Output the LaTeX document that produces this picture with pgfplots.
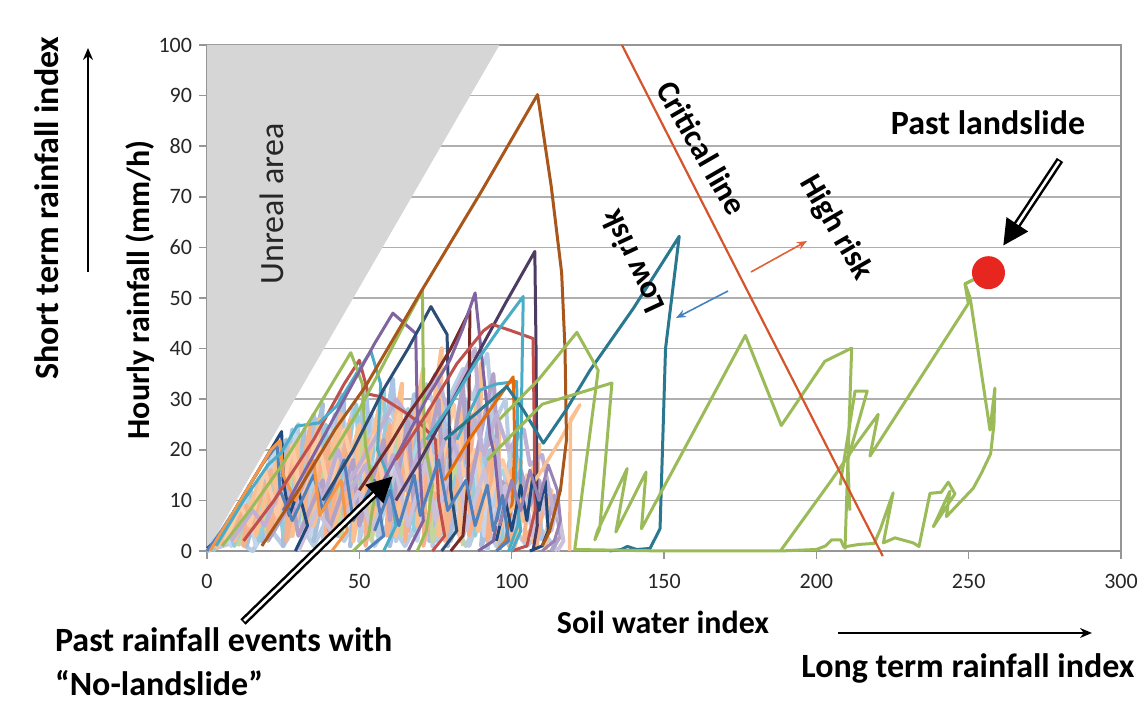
\documentclass[border=0pt]{standalone}
\usepackage{fontspec}
\setmainfont{Carlito}
\usepackage{pgfplots}
\pgfplotsset{compat=1.18}
\usetikzlibrary{arrows.meta}

\definecolor{unreal}{RGB}{214,214,214}
\definecolor{gridgray}{RGB}{175,175,175}
\definecolor{axgray}{RGB}{150,150,150}
\definecolor{critred}{RGB}{214,84,44}
\definecolor{dotred}{RGB}{232,38,32}
\definecolor{arrblue}{RGB}{70,130,190}
\definecolor{arrred}{RGB}{224,96,58}
\definecolor{cNavy}{HTML}{1F497D}
\definecolor{cBlue}{HTML}{4F81BD}
\definecolor{cRed}{HTML}{C0504D}
\definecolor{cGreen}{HTML}{9BBB59}
\definecolor{cPurple}{HTML}{8064A2}
\definecolor{cAqua}{HTML}{4BACC6}
\definecolor{cOrange}{HTML}{F79646}
\definecolor{cDBlue}{HTML}{2C4D75}
\definecolor{cMaroon}{HTML}{772C2A}
\definecolor{cDPurple}{HTML}{4D3B62}
\definecolor{cTeal}{HTML}{2A7790}
\definecolor{cBrown}{HTML}{A8561A}
\definecolor{cDOrange}{HTML}{E46C0A}
\definecolor{cLPurple}{HTML}{9983B5}
\definecolor{lb1}{HTML}{B8CCE4}
\definecolor{lb2}{HTML}{A5BFDD}
\definecolor{lb3}{HTML}{C6D9F1}
\definecolor{lb4}{HTML}{A9C4E4}
\definecolor{lb5}{HTML}{C5D5EA}
\definecolor{pe1}{HTML}{FAC090}
\definecolor{pe2}{HTML}{F7B18A}
\definecolor{pe3}{HTML}{FBCBA6}
\definecolor{lav1}{HTML}{B3A2C7}
\definecolor{lav2}{HTML}{CCC1DA}
\definecolor{lav3}{HTML}{BFB1D5}
\definecolor{lc1}{HTML}{93CDDD}
\definecolor{lc2}{HTML}{A8D8E6}
\definecolor{lg1}{HTML}{C3D69B}

\newcommand\fbig{\fontsize{17bp}{20bp}\selectfont\bfseries}
\newcommand\fmid{\fontsize{16bp}{19bp}\selectfont\bfseries}

\begin{document}
\begin{tikzpicture}
\path[use as bounding box] (0,0) rectangle (573.5bp,358bp);
\begin{axis}[
  at={(103.5bp,82.5bp)}, anchor=south west,
  scale only axis, width=457bp, height=253bp,
  xmin=0, xmax=300, ymin=0, ymax=100,
  enlargelimits=false,
  xtick={0,50,...,300}, ytick={0,10,...,100},
  ymajorgrids, grid style={draw=gridgray, line width=0.75bp},
  axis line style={draw=axgray, line width=0.75bp},
  tick style={draw=axgray, line width=0.75bp},
  tick align=outside, major tick length=4bp, tick pos=left,
  ticklabel style={font=\fontsize{11bp}{13bp}\selectfont, text=black!85},
  xticklabel style={yshift=-4bp},
  /pgf/number format/assume math mode=true,
  clip=false,
  every axis plot/.append style={line width=1.5bp, line join=round},
]
% unreal area
\addplot[fill=unreal, draw=none] coordinates {(0,0) (96,100) (0,100)} -- cycle;

% dense light series (past no-landslide events)
\addplot[lb1, line width=2.2bp] coordinates {(1,0.5) (6,5) (5,1) (12,10) (10,2) (18,15) (15,3) (24,20) (21,4) (30,25) (27,3) (36,26) (33,5) (42,27) (38,2) (48,28) (44,4) (54,27) (50,2) (60,26) (56,3) (66,28) (62,2) (72,25) (68,3) (78,27) (74,1) (84,24) (80,2) (90,22) (86,1) (96,18) (92,0)};
\addplot[lb1, line width=2.2bp] coordinates {(0,0) (10,2) (15,0) (20,5) (25,1) (30,6) (35,1) (40,7) (45,2) (50,8) (55,1) (60,6) (65,1) (70,7) (75,2) (80,6) (85,1) (90,7) (95,1) (100,5) (105,1) (110,4) (115,0)};
\addplot[lb2, line width=2.2bp] coordinates {(2,0) (8,7) (7,2) (14,12) (13,1) (20,17) (18,2) (26,22) (25,1) (32,24) (30,6) (38,29) (35,2) (45,30) (43,3) (51,25) (47,1) (57,29) (55,5) (63,30) (60,1) (69,27) (66,4) (75,29) (73,2) (81,23) (79,1) (87,26) (84,3) (93,20) (90,1) (98,12) (96,0)};
\addplot[lb3, line width=2.2bp] coordinates {(0,0) (4,3) (9,4) (11,8) (16,6) (19,13) (23,9) (27,19) (29,10) (34,21) (37,12) (40,24) (43,14) (47,22) (49,11) (53,20) (57,13) (59,24) (63,12) (67,20) (70,9) (74,19) (77,11) (82,17) (85,8) (89,15) (92,6) (97,10) (100,2)};
\addplot[lb4, line width=2.2bp] coordinates {(3,2) (7,6) (10,3) (14,13) (17,4) (21,19) (24,6) (28,24) (31,8) (35,27) (39,7) (44,31) (47,9) (52,33) (55,10) (61,34) (63,9) (68,31) (71,8) (77,33) (80,10) (85,30) (88,8) (93,27) (96,9) (101,22) (104,6) (108,15) (110,2)};
\addplot[lb5, line width=2.2bp] coordinates {(1,1) (5,4) (8,1) (13,11) (16,1) (22,20) (26,4) (29,23) (34,3) (38,22) (42,8) (46,25) (52,4) (55,26) (58,9) (64,22) (69,2) (73,20) (77,4) (80,22) (83,6) (88,20) (91,3) (95,16) (98,2)};
\addplot[lb1, line width=2bp] coordinates {(40,10) (50,20) (60,28) (65,22) (72,33) (76,26) (84,36) (87,30) (92,39) (94,25) (98,30) (100,12)};
\addplot[lc1, line width=2bp] coordinates {(2,0) (7,5) (9,1) (15,11) (17,2) (23,15) (25,3) (31,20) (33,4) (39,25) (41,5) (49,29) (51,6) (58,32) (60,8) (66,28) (68,4) (76,34) (78,5) (86,28) (88,3) (95,23) (97,2)};
\addplot[lc2, line width=2bp] coordinates {(10,4) (14,10) (18,8) (22,14) (26,10) (33,16) (36,12) (44,19) (48,14) (53,18) (57,16) (62,20) (66,15) (70,23) (75,17) (79,20) (83,14) (89,19) (93,12) (97,16) (101,9) (104,14) (107,8)};
\addplot[lg1, line width=2bp] coordinates {(10,1) (18,10) (20,2) (30,18) (32,4) (42,22) (44,3) (52,24) (54,2) (62,26) (64,3) (72,21) (74,2) (82,18) (84,1)};
\addplot[pe1, line width=2.2bp] coordinates {(3,0.5) (10,7) (9,2) (17,13) (16,3) (23,18) (22,4) (30,22) (28,3) (37,26) (35,5) (44,27) (41,3) (50,25) (48,2) (57,30) (55,4) (64,33) (62,3) (71,36) (69,5) (77,40) (76,3) (84,31) (83,2) (90,37) (89,4) (96,25) (95,2) (103,18) (101,1) (109,21) (107,2) (113,12) (111,0)};
\addplot[pe2, line width=2bp] coordinates {(5,1) (13,9) (12,1) (21,16) (20,2) (27,20) (26,2) (34,25) (32,4) (40,22) (39,2) (47,26) (45,6) (53,22) (52,1) (60,25) (59,3) (67,22) (65,2) (73,28) (71,1) (80,24) (78,2) (87,27) (86,3) (94,20) (92,2) (100,16) (99,1) (106,13) (104,2) (110,8) (108,0)};
\addplot[pe3, line width=2bp] coordinates {(6,2) (11,9) (14,5) (19,16) (23,7) (28,21) (31,10) (36,23) (40,12) (45,24) (49,14) (55,23) (58,13) (63,27) (67,10) (72,25) (75,12) (81,29) (84,15) (88,20) (92,9) (97,18) (102,9) (105,15) (108,5)};
\addplot[lav1, line width=2bp] coordinates {(20,2) (28,10) (30,3) (38,14) (40,4) (48,18) (50,5) (58,22) (60,6) (66,26) (68,8) (76,30) (78,10) (84,33) (86,12) (94,35) (96,14) (100,12) (103,16) (106,9) (109,14) (112,6) (114,11) (116,3) (113,0)};
\addplot[lav2, line width=2bp] coordinates {(30,0) (36,8) (42,3) (50,12) (54,4) (62,16) (66,5) (72,18) (75,6) (82,21) (85,4) (91,16) (94,5) (98,13) (101,4) (104,12) (107,3) (110,10) (113,4) (115,9) (117,2) (115,0)};
\addplot[lav3, line width=2bp] coordinates {(8,2) (15,8) (19,5) (25,14) (29,9) (34,17) (38,10) (43,20) (47,12) (52,17) (56,9) (61,19) (65,12) (71,22) (74,14) (79,24) (83,18) (88,26) (91,19) (95,27) (99,20) (104,24) (106,17) (110,19) (114,7)};
\addplot[lav3, line width=2bp] coordinates {(45,12) (55,22) (62,30) (68,25) (75,35) (79,28) (88,40) (90,20) (95,22) (97,8)};

% medium coloured events
\addplot[cNavy] coordinates {(0,0.5) (3,2) (10,9) (17,16) (24.5,23.6) (25,14) (27,7) (30,12) (33,5) (29,0)};
\addplot[cBlue] coordinates {(0,0) (6,5) (12,11) (18,17) (23,21) (24,12) (28,6) (35,15) (38,8) (45,18) (48,6) (55,14) (58,3) (52,0)};
\addplot[cOrange] coordinates {(1,0) (8,7) (15,14) (21,20) (24,21.8) (25,15) (29,10) (35,18) (37,7) (44,14) (46,4) (41,0)};
\addplot[cRed] coordinates {(12,2) (22,10) (35,22) (45,33) (50,37.7) (53,31) (57,30.5) (66,27) (70,25.2) (75,22) (76,10) (78,3) (74,0)};
\addplot[cAqua] coordinates {(3,1) (12,10) (20,17) (24.5,19.5) (29.5,24.7) (36.7,25.3) (42.5,28.6) (50,36) (53.8,39.5) (57,33) (56,20) (60,14) (62,5) (58,0)};
\addplot[cGreen] coordinates {(5,1) (14,8) (24.5,16.9) (35,27) (47.2,39.2) (51,33) (52,21) (55,11) (53,3) (48,0)};
\addplot[cPurple] coordinates {(25,8) (35,19) (45,30) (55,41) (61,47) (68.5,43) (69,28) (70,15) (71,6) (66,0)};
\addplot[cDBlue] coordinates {(38,10) (48,20) (58,32) (66,40) (73.5,48.3) (78.8,42.8) (79.5,25) (80,12) (82,4) (77,0)};
\addplot[cGreen] coordinates {(40,18) (50,28) (58,37) (64,44) (70.7,51.5) (71,35) (71.3,22) (74,13) (72,4) (69,0)};
\addplot[cMaroon] coordinates {(50,12) (60,21) (66,27) (73.2,33.1) (80,40) (86.3,47.6) (86,30) (85.7,14) (84,3) (80,0)};
\addplot[cPurple] coordinates {(58,14) (66,23) (72,30) (79.7,37.7) (84,44) (88,51) (92.9,22.6) (94.5,18.6) (96,9) (94,2) (89,0)};
\addplot[cDPurple] coordinates {(62,10) (70,18) (80,29) (89.6,39.7) (98,49) (107.6,59.2) (108,40) (108.2,20) (108.4,5) (107,0)};
\addplot[cRed] coordinates {(62,18) (72,27) (82,37) (90.7,43.5) (93.6,44.8) (100,43.5) (107,42) (107.4,25) (107.7,8) (105,1) (100,0)};
\addplot[cAqua] coordinates {(72,22) (80,29) (88,37) (96,44) (103.8,50.3) (103.3,32) (103,15) (102,5) (99,0)};
\addplot[cAqua] coordinates {(82,22) (89.6,31.8) (95,33) (101.6,33.5) (102,25) (101,12) (103,4) (100,0)};
\addplot[cDOrange] coordinates {(78,14) (86,22) (93,28) (100.5,34.4) (101,22) (100.3,10) (98,2) (95,0)};
\addplot[pe1, line width=1.7bp] coordinates {(95,5) (103,10) (109.3,15.4) (116,22) (122.4,28.9) (119.3,26) (119.2,12) (119,0)};
\addplot[cNavy] coordinates {(95,2) (98,10) (100,4) (103,13) (105,6) (107,15) (109,8) (111,14) (112,4) (110,1) (106,0)};
\addplot[cLPurple] coordinates {(96,5) (100,14) (103,8) (106,16) (109,10) (112,17) (115,12) (116,6) (114,2) (110,0)};
\addplot[cBlue] coordinates {(55,4) (60,12) (63,5) (68,15) (70,7) (76,18) (79,8) (85,14) (88,5) (92,13) (94,4) (97,11) (99,2) (95,0)};
\addplot[cBrown] coordinates {(18,1) (30,12) (42,24) (52,32.5) (70,51) (90,71) (108.5,90.2) (113,72) (116.4,55) (117.5,40) (118,22) (116,12) (112.4,3.8) (110,1)};

% low-risk event (teal)
\addplot[cTeal, line width=1.5bp] coordinates {(78,22) (88,27) (98.4,32.5) (103.8,27.9) (110.4,21.3) (118,28) (125.7,35.7) (140,48) (155,62.2) (150.5,40) (149.5,20) (148.7,4.4) (145.4,0.5) (141,0.3) (138,0.9) (136,0.3) (132,0)};

% landslide event (green)
\addplot[cGreen, line width=1.5bp] coordinates {(96,26) (109,34) (121.4,43.2) (128.4,35.7) (120.7,0.3) (150,0) (188.2,0) (200,0.3) (203,1) (205,2.2) (208,2.2) (209,0.8) (214,1.3) (219,1.5) (221,4.3) (225.2,11.5) (222,1.6) (225.8,2.6) (231.8,1.6) (233.7,0.9) (237.3,11.4) (241,11.6) (243.3,13.6) (245.5,11.3) (238.4,4.8) (243.8,11.8) (242.7,6.8) (251.5,12.4) (254.2,15.4) (257.2,19.2) (258.3,25) (258.6,32.2) (257,23.9) (250.5,50) (248.8,52.8) (251.5,53.6)};
\addplot[cGreen, line width=1.5bp] coordinates {(92,18) (110,29) (132.9,33.2) (128.9,4.4) (127.3,2.2) (128.2,4) (137.9,16.3) (134.2,3.75) (144.1,15.6) (142.6,4.4) (176.7,42.6) (188.5,24.8) (202.8,37.5) (211.6,40.1) (209.4,0.3)};
\addplot[cGreen, line width=1.5bp] coordinates {(188.2,0) (205,14) (213,21) (220.3,27) (217.6,18.75) (249.9,48.9) (248.8,52.8) (251.5,53.6)};
\addplot[cGreen, line width=1.5bp] coordinates {(207.8,13) (212.7,31.6) (216.7,31.6) (210.3,18) (211,8)};

% critical line
\addplot[critred, line width=1.1bp] coordinates {(136.2,100) (221.8,-1)};
% past landslide
\addplot[only marks, mark=*, mark size=7.5bp, color=dotred] coordinates {(256.5,55)};
\end{axis}

\begin{scope}[x=0.5bp, y=-0.5bp, shift={(0bp,358bp)}]
  \node[rotate=90, font=\fbig] at (47,208) {Short term rainfall index};
  \draw[line width=0.8bp, -{Stealth[length=6bp,width=5bp]}] (88,272) -- (88,48);
  \node[rotate=90, font=\fmid] at (140,290) {Hourly rainfall (mm/h)};
  \node[rotate=90, font=\fontsize{17bp}{20bp}\selectfont, text=black!85] at (272,204) {Unreal area};
  \node[font=\fmid] at (663,622) {Soil water index};
  \draw[line width=0.8bp, -{Stealth[length=6bp,width=5bp]}] (838,633) -- (1092,633);
  \node[font=\fbig] at (968,668) {Long term rainfall index};
  \node[font=\fbig, anchor=west] at (48,640) {Past rainfall events with};
  \node[font=\fbig, anchor=west] at (48,683) {``No-landslide''};
  \node[font=\fbig] at (988,123) {Past landslide};
  \node[font=\fmid, rotate=-60] at (702,148) {Critical line};
  \node[font=\fmid, rotate=-60] at (836,228) {High risk};
  \node[font=\fmid, rotate=115] at (632,262) {Low risk};
  \draw[arrblue, line width=0.8bp, -{Stealth[length=5bp,width=4bp]}] (728,291) -- (676,318);
  \draw[arrred, line width=0.8bp, -{Stealth[length=5bp,width=4bp]}] (751,272) -- (807,241);
  % hollow double arrows
  \draw[line width=3.8bp, -{Triangle[length=13bp,width=12bp]}] (243,622) -- (393,476);
  \draw[white, line width=1.3bp, shorten >=13bp, shorten <=0.8bp] (243,622) -- (393,476);
  \draw[line width=3.8bp, -{Triangle[length=13bp,width=12bp]}] (1060,160) -- (1003,246);
  \draw[white, line width=1.3bp, shorten >=13bp, shorten <=0.8bp] (1060,160) -- (1003,246);
\end{scope}
\end{tikzpicture}
\end{document}
